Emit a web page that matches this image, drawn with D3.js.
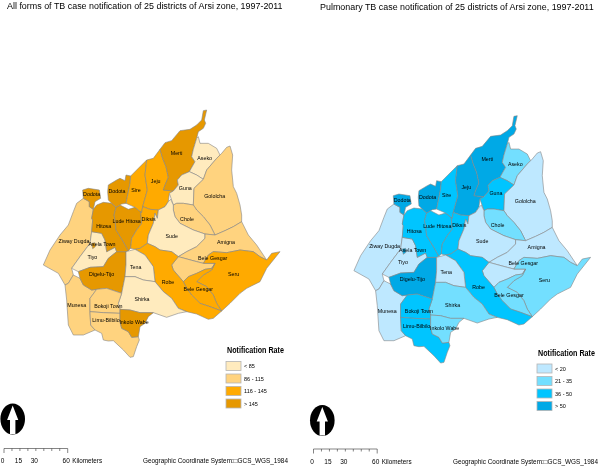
<!DOCTYPE html>
<html>
<head>
<meta charset="utf-8">
<script src="https://cdn.jsdelivr.net/npm/d3@7"></script>
<style>
    html, body { margin: 0; padding: 0; background: #fff; }
    svg { display: block; filter: blur(0.3px); }
    text { font-family: "Liberation Sans", Arial, sans-serif; fill: #000; }
</style>
</head>
<body>
<svg id="chart" width="600" height="466"></svg>
<script>
/* Data
   ========================================================================== */

// Map titles and legends
var titles = ["All forms of TB case notification of 25 districts of Arsi zone, 1997-2011",
              "Pulmonary TB case notification of 25 districts of Arsi zone, 1997-2011"];
var legendTitle = "Notification Rate";
var legendLabelsAll = ["< 85", "86 - 115", "116 - 145", "> 145"];
var legendLabelsPulmonary = ["< 20", "21 - 35", "36 - 50", "> 50"];
var coloursAll = ["#FFEBBE", "#FFD37F", "#FFAA00", "#E69800"];
var coloursPulmonary = ["#BEE8FF", "#73DFFF", "#00C5FF", "#00A9E6"];
var scaleTicks = [0, 7.5, 15, 22.5, 30, 37.5, 45, 52.5, 60];
var scaleLabels = [0, 15, 30, 60];
var crsText = "Geographic Coordinate System:\u25A1GCS_WGS_1984";

// One entry per polygon, same order in all of the lists below
var districtNames = ["Ziway Dugda", "Munesa", "Tiyo", "Digelu-Tijo", "Hitosa", "Lude Hitosa", "Dodota", "Dodota N",
    "Sire", "Jeju", "Diksis", "Merti", "Aseko", "Guna", "Gololcha", "Chole", "Sude", "Amigna", "Bele Gesgar N",
    "Seru", "Bele Gesgar S", "Robe", "Tena", "Shirka", "Bokoji Town", "Limu-Bilbilo", "Inkolo Wabe", "Asela Town"];

// Rate class (index into the colours)
var classAll =       [1, 1, 0, 3, 3, 3, 3, 3, 2, 2, 2, 3, 0, 0, 1, 1, 0, 1, 1, 2, 2, 2, 0, 0, 1, 1, 3, 3];
var classPulmonary = [0, 0, 0, 3, 2, 2, 3, 3, 2, 3, 2, 3, 1, 2, 0, 1, 0, 0, 0, 1, 1, 2, 0, 1, 2, 2, 1, 3];

// District outlines in map units
var districtOutlines = [
    [[110,340],[130,325],[148,335],[148,350],[160,358],[155,385],[158,390],[155,425],[150,460],[120,500],[95,535],[100,555],[85,580],[75,585],[55,550],[10,525],[30,480],[60,435],[85,405],[100,365]],
    [[100,555],[120,565],[130,585],[155,600],[170,598],[150,625],[150,670],[152,705],[165,720],[130,735],[100,735],[85,705],[80,630],[75,585],[85,580]],
    [[155,425],[185,430],[195,450],[200,485],[225,472],[230,485],[205,505],[190,530],[150,532],[115,545],[95,535],[120,500],[150,460]],
    [[230,485],[258,485],[258,525],[255,560],[245,610],[200,595],[170,598],[155,600],[130,585],[120,565],[115,545],[150,532],[190,530],[205,505]],
    [[155,385],[160,358],[170,345],[190,337],[215,340],[228,352],[222,375],[225,390],[228,420],[250,455],[265,482],[258,485],[230,485],[225,472],[200,485],[195,450],[185,430],[155,425],[158,390]],
    [[228,352],[240,345],[265,358],[285,352],[302,365],[305,400],[290,420],[275,445],[272,475],[265,482],[250,455],[228,420],[225,390],[222,375]],
    [[205,285],[230,270],[240,265],[255,272],[258,255],[272,258],[270,280],[262,320],[258,340],[245,342],[228,352],[215,340],[205,330],[203,305]],
    [[128,300],[145,295],[178,300],[182,325],[165,335],[160,358],[148,350],[148,335],[130,325]],
    [[272,258],[295,235],[320,210],[315,255],[322,300],[308,350],[305,368],[285,352],[258,340],[262,320],[270,280]],
    [[320,210],[340,205],[360,178],[368,205],[378,230],[385,262],[375,285],[370,300],[400,303],[388,310],[385,335],[375,350],[355,360],[330,358],[308,350],[322,300],[315,255]],
    [[305,368],[308,350],[330,358],[355,360],[352,385],[345,370],[340,400],[325,435],[322,460],[300,475],[285,478],[272,475],[275,445],[290,420],[305,400],[302,365]],
    [[490,62],[500,60],[493,90],[497,100],[490,115],[475,125],[470,145],[460,178],[455,200],[465,215],[448,245],[425,255],[412,270],[415,285],[400,303],[370,300],[375,285],[385,262],[378,230],[368,205],[360,178],[375,158],[395,152],[420,122],[450,118],[470,105],[485,90]],
    [[475,140],[480,160],[505,160],[530,175],[540,195],[530,205],[500,240],[490,268],[470,255],[448,245],[465,215],[455,200],[460,178],[470,145]],
    [[448,245],[470,255],[490,268],[462,295],[460,345],[430,340],[410,340],[400,345],[388,310],[400,303],[415,285],[412,270],[425,255]],
    [[490,268],[500,240],[530,205],[545,190],[560,172],[570,168],[578,195],[575,240],[580,290],[590,310],[600,345],[605,375],[605,395],[580,410],[555,422],[525,435],[510,405],[490,380],[470,360],[460,345],[462,295]],
    [[400,345],[410,340],[430,340],[460,345],[470,360],[490,380],[510,405],[525,435],[495,432],[460,420],[420,400],[405,380],[400,360]],
    [[352,385],[355,360],[375,350],[385,335],[392,328],[400,345],[400,360],[405,380],[420,400],[460,420],[495,432],[495,445],[470,470],[440,485],[415,500],[395,485],[360,480],[345,470],[322,460],[325,435],[340,400],[345,370]],
    [[495,445],[495,432],[525,435],[555,422],[580,410],[605,395],[625,435],[650,465],[680,510],[660,500],[640,485],[600,480],[560,488],[520,485],[505,495],[490,520],[470,515],[415,500],[440,485],[470,470]],
    [[415,500],[470,515],[490,520],[525,520],[515,535],[495,538],[470,550],[445,560],[430,575],[400,540],[395,525]],
    [[720,485],[700,510],[680,535],[660,575],[620,595],[600,610],[570,640],[545,663],[530,640],[520,615],[500,590],[470,575],[490,555],[515,540],[525,520],[490,520],[505,495],[520,485],[560,488],[600,480],[640,485],[660,500],[680,510],[695,490]],
    [[430,575],[445,560],[470,550],[495,538],[515,535],[525,520],[515,540],[490,555],[470,575],[500,590],[520,615],[530,640],[545,663],[510,650],[480,640],[455,615],[440,595]],
    [[285,478],[300,475],[322,460],[345,470],[360,480],[395,485],[415,500],[395,525],[400,540],[430,575],[440,595],[455,615],[480,640],[510,650],[545,663],[520,685],[505,688],[470,672],[440,665],[415,655],[395,625],[370,605],[345,575],[340,530],[315,495]],
    [[258,485],[285,478],[315,495],[340,530],[345,575],[310,570],[285,560],[255,560],[258,525]],
    [[255,560],[285,560],[310,570],[345,575],[370,605],[395,625],[415,655],[440,665],[415,670],[380,682],[340,668],[300,668],[270,660],[240,658],[235,640],[245,610]],
    [[170,598],[200,595],[245,610],[235,640],[240,658],[240,670],[190,668],[150,665],[150,625]],
    [[150,665],[190,668],[240,670],[240,695],[245,715],[265,725],[275,742],[295,740],[298,750],[290,770],[280,800],[270,802],[250,780],[220,752],[205,753],[190,750],[185,730],[165,720],[152,705]],
    [[240,670],[240,658],[270,660],[300,668],[340,668],[325,680],[315,700],[300,710],[295,740],[275,742],[265,725],[245,715],[240,695]],
    [[155,460],[165,458],[166,470],[158,476]]
];

// Label text and where it sits, map units
var labelNames = ["Merti", "Aseko", "Jeju", "Sire", "Dodota", "Dodota", "Guna", "Gololcha", "Chole", "Diksis", "Lude Hitosa", "Hitosa", "Sude",
    "Ziway Dugda", "Asela Town", "Tiyo", "Amigna", "Bele Gesgar", "Seru", "Tena", "Digelu-Tijo", "Robe", "Bele Gesgar", "Shirka", "Munesa",
    "Bokoji Town", "Limu-Bilbilo", "Inkolo Wabe"];
var labelAnchors = [[410,190],[494,205],[347,274],[288,299],[231,303],[155,313],[436,293],[524,317],[441,388],[326,387],[260,392],[191,407],[395,437],
    [102,452],[186,462],[157,500],[558,455],[518,503],[581,553],[287,530],[185,551],[384,575],[475,598],[306,627],[110,645],
    [205,647],[198,690],[282,697]];

/* Panels
   ========================================================================== */

var panels = [
    { title: titles[0], titleX: 7, titleW: 276, titleY: 9, dx: 0, dy: 0, colours: coloursAll, classes: classAll, legendLabels: legendLabelsAll,
      legendX: 226, legendY: 361.5, legendTitleY: 353, legendTitleX: 227, arrowX: 12.7, arrowY: 419, scaleX: 4, scaleY: 448.5, textY: 463, crsX: 143 },
    { title: titles[1], titleX: 320, titleW: 274, titleY: 10, dx: 310.6, dy: 5.7, colours: coloursPulmonary, classes: classPulmonary, legendLabels: legendLabelsPulmonary,
      legendX: 537, legendY: 364, legendTitleY: 356, legendTitleX: 538, arrowX: 322.3, arrowY: 420.5, scaleX: 313.5, scaleY: 449, textY: 464, crsX: 453 }
];

var svg = d3.select("#chart");

// Squeeze a text to a given width, the originals use a narrow type
function fitText(g, str, px, py, size, width, bold) {
    var t = g.append("text")
        .attr("font-size", size)
        .attr("font-weight", bold ? "bold" : "normal")
        .text(str);
    var k = width / t.node().getComputedTextLength();
    t.attr("transform", "translate(" + px + "," + py + ") scale(" + k + ",1)");
    return t;
}

panels.forEach(function(p) {
    var g = svg.append("g");

    // Title
    fitText(g, p.title, p.titleX, p.titleY, 9.5, p.titleW, false);

    // Map units to pixels
    var x = d3.scaleLinear().domain([0, 720]).range([40 + p.dx, 280 + p.dx]);
    var y = d3.scaleLinear().domain([0, 780]).range([90 + p.dy, 350 + p.dy]);
    var outline = d3.line()
        .x(function(d) { return x(d[0]); })
        .y(function(d) { return y(d[1]); })
        .curve(d3.curveLinearClosed);

    g.selectAll(".district")
        .data(districtOutlines)
        .enter().append("path")
        .attr("class", "district")
        .attr("d", outline)
        .attr("fill", function(d, i) { return p.colours[p.classes[i]]; })
        .attr("stroke", "#858585")
        .attr("stroke-width", 0.6)
        .attr("stroke-linejoin", "round")
        .append("title")
        .text(function(d, i) { return districtNames[i]; });

    g.selectAll(".label")
        .data(labelNames)
        .enter().append("text")
        .attr("class", "label")
        .attr("x", function(d, i) { return x(labelAnchors[i][0]); })
        .attr("y", function(d, i) { return y(labelAnchors[i][1]) + 2; })
        .attr("text-anchor", "middle")
        .attr("font-size", 5.3)
        .text(function(d) { return d; });

    // Legend
    fitText(g, legendTitle, p.legendTitleX, p.legendTitleY, 8.5, 57, true);

    var row = d3.scaleBand().domain(d3.range(4)).range([p.legendY, p.legendY + 50]);
    g.selectAll(".swatch")
        .data(p.colours)
        .enter().append("rect")
        .attr("class", "swatch")
        .attr("x", p.legendX)
        .attr("y", function(d, i) { return row(i); })
        .attr("width", 15)
        .attr("height", 9)
        .attr("fill", function(d) { return d; })
        .attr("stroke", "#b5b5b5")
        .attr("stroke-width", 0.8);

    g.selectAll(".legend-label")
        .data(p.legendLabels)
        .enter().append("text")
        .attr("class", "legend-label")
        .attr("x", p.legendX + 18)
        .attr("y", function(d, i) { return row(i) + 6.5; })
        .attr("font-size", 5.5)
        .text(function(d) { return d; });

    // North arrow
    var arrow = g.append("g").attr("transform", "translate(" + p.arrowX + "," + p.arrowY + ")");
    arrow.append("ellipse").attr("rx", 12.3).attr("ry", 15.5).attr("fill", "#000");
    arrow.append("path")
        .attr("d", "M0,-13.5L5.6,1L2.7,1L2.7,15L-2.7,15L-2.7,1L-5.6,1Z")
        .attr("fill", "#fff");

    // Scale bar
    var km = d3.scaleLinear().domain([0, 60]).range([p.scaleX, p.scaleX + 63.7]);
    var bar = g.append("g").attr("fill", "none").attr("stroke", "#333").attr("stroke-width", 0.6);
    bar.append("line")
        .attr("x1", km(0)).attr("x2", km(60))
        .attr("y1", p.scaleY).attr("y2", p.scaleY);
    bar.selectAll("line.tick")
        .data(scaleTicks)
        .enter().append("line")
        .attr("class", "tick")
        .attr("x1", function(d) { return km(d); })
        .attr("x2", function(d) { return km(d); })
        .attr("y1", p.scaleY)
        .attr("y2", function(d) { return p.scaleY + (d === 0 || d === 60 ? 4.5 : 2.5); });

    g.selectAll(".scale-label")
        .data(scaleLabels)
        .enter().append("text")
        .attr("class", "scale-label")
        .attr("x", function(d) { return km(d) - 1.5; })
        .attr("y", p.textY)
        .attr("text-anchor", "middle")
        .attr("font-size", 6.5)
        .text(function(d) { return d; });

    fitText(g, "Kilometers", km(60) + 4.5, p.textY, 6.5, 30, false);
    fitText(g, crsText, p.crsX, p.textY, 6.5, 145, false);
});
</script>
</body>
</html>
